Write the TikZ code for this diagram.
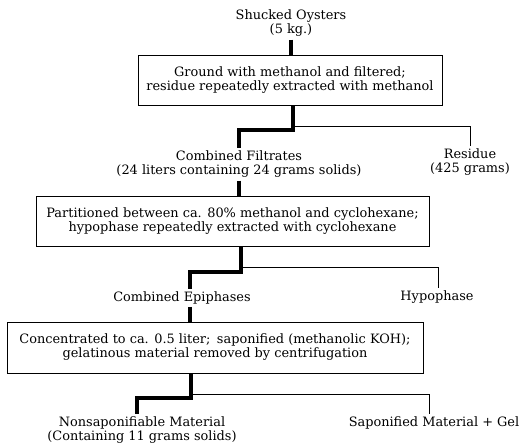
\documentclass[tikz,border=0pt]{standalone}
\usepackage{fontspec}
\setmainfont{DejaVu Serif}
\usetikzlibrary{positioning}

\tikzset{
  stepbox/.style={draw, line width=0.9pt, inner sep=0pt, align=center},
  label/.style={align=center, inner sep=2.5pt},
  flow/.style={line width=4.5pt, line join=miter},
  side/.style={line width=0.8pt}
}

\begin{document}
\begin{tikzpicture}[x=1pt, y=-1pt, font=\fontsize{12.9}{14}\selectfont]
\useasboundingbox (0,0) rectangle (523,446);

% start
\node[label] (oysters) at (291,23.5) {Shucked Oysters\\(5 kg.)};
\node[stepbox, minimum width=304pt, minimum height=50pt] (grind) at (290,80)
  {Ground with methanol and filtered;\\residue repeatedly extracted with methanol};
\draw[flow] (oysters.south) -- (oysters.south |- grind.north);

% first split
\node[label] (filtrates) at (239,164.5) {Combined Filtrates\\(24 liters containing 24 grams solids)};
\node[label] (residue) at (470,162.5) {Residue\\(425 grams)};
\coordinate (split1) at (293,130);
\coordinate (tap1) at (293,126);
\draw[flow] (grind.south -| split1) -- (split1) -| (filtrates.north);
\draw[side] (tap1) -| (residue.north);

\node[stepbox, minimum width=393pt, minimum height=50pt] (part) at (232.5,221)
  {Partitioned between ca. 80\% methanol and cyclohexane;\\hypophase repeatedly extracted with cyclohexane};
\draw[flow] (filtrates.south) -- (filtrates.south |- part.north);

% second split
\node[label] (epiphases) at (182,298) {Combined Epiphases};
\node[label] (hypophase) at (437,297) {Hypophase};
\coordinate (split2) at (241,272);
\coordinate (tap2) at (241,267);
\coordinate (drop2) at (190,290);
\draw[flow] (part.south -| split2) -- (split2) -| (drop2 |- epiphases.north);
\draw[side] (tap2) -| (hypophase.north -| 438,0);

\node[stepbox, minimum width=416pt, minimum height=51pt] (sapon) at (215,347.5)
  {Concentrated to ca. 0.5 liter;\enspace saponified (methanolic KOH);\\gelatinous material removed by centrifugation};
\draw[flow] (drop2 |- epiphases.south) -- (drop2 |- sapon.north);

% third split
\node[label] (nonsap) at (142,430) {Nonsaponifiable Material\\(Containing 11 grams solids)};
\node[label] (gel) at (434,423) {Saponified Material + Gel};
\coordinate (split3) at (191,398);
\coordinate (tap3) at (191,394);
\draw[flow] (sapon.south -| split3) -- (split3) -| (nonsap.north -| 137,0);
\draw[side] (tap3) -| (gel.north -| 429,0);

\end{tikzpicture}
\end{document}
